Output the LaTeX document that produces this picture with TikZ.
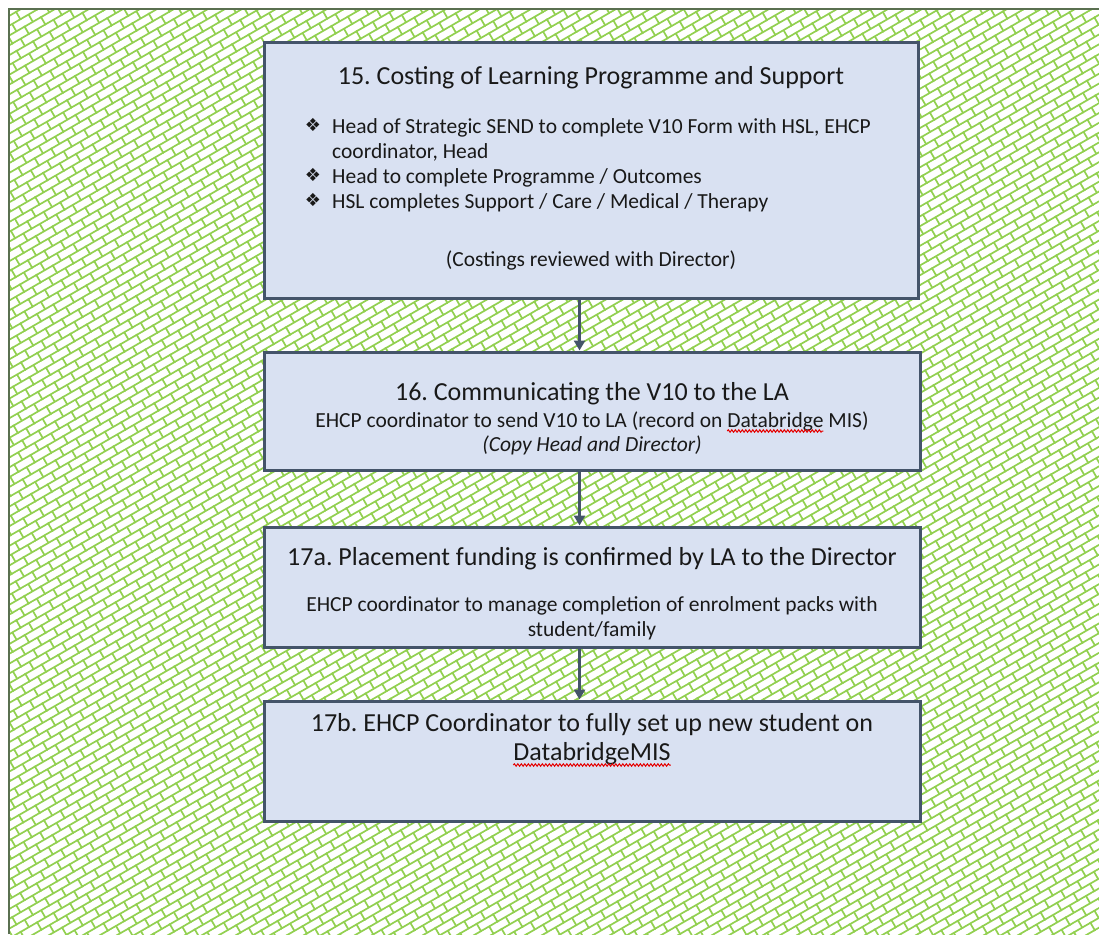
\documentclass[tikz,border=0pt]{standalone}
\usepackage{fontspec}
\setmainfont{Carlito}
\newfontfamily\symfont{DejaVu Sans}
\usetikzlibrary{patterns.meta,arrows.meta,decorations.pathmorphing}

\definecolor{brickgreen}{RGB}{146,208,80}
\definecolor{boxfill}{RGB}{217,225,242}
\definecolor{boxline}{RGB}{68,84,106}
\definecolor{framecol}{RGB}{90,112,80}
\definecolor{txt}{RGB}{25,25,25}

\tikzdeclarepattern{
  name=diagbrick,
  type=uncolored,
  bottom left={(-1pt,-1pt)},
  top right={(20pt,18pt)},
  tile size={(19pt,17pt)},
  tile transformation={rotate=30},
  code={
    \draw[line width=1.7pt] (-1pt,0pt) -- (20pt,0pt);
    \draw[line width=1.7pt] (-1pt,8.5pt) -- (20pt,8.5pt);
    \draw[line width=1.7pt] (0pt,0pt) -- (0pt,8.5pt);
    \draw[line width=1.7pt] (9.5pt,8.5pt) -- (9.5pt,17pt);
  }
}

\frenchspacing
\newcommand{\titlefont}{\fontsize{26}{31}\selectfont}
\newcommand{\bodyfont}{\fontsize{21.5}{26}\selectfont}
\newlength\dbA
\newlength\dbB
\newlength\dbC

\tikzset{
  stepbox/.style={draw=boxline, fill=boxfill, line width=3pt, rectangle, inner sep=0pt},
  ttl/.style={anchor=base, inner sep=0pt, text=txt, font=\titlefont},
  bodytext/.style={anchor=base, inner sep=0pt, text=txt, font=\bodyfont},
  bodyleft/.style={anchor=base west, inner sep=0pt, text=txt, font=\bodyfont},
  bul/.style={anchor=base, inner sep=0pt, text=txt, font=\symfont\fontsize{18}{18}\selectfont},
  arr/.style={draw=boxline, line width=2.5pt, -{Triangle[width=11pt,length=10pt]}},
  spell/.style={draw=red!90!black, line width=1pt, decorate, decoration={snake, amplitude=1.2pt, segment length=3.5pt}},
}

\begin{document}
\settowidth{\dbA}{\bodyfont EHCP coordinator to send V10 to LA (record on }%
\settowidth{\dbB}{\bodyfont Databridge}%
\settowidth{\dbC}{\titlefont DatabridgeMIS}%
\begin{tikzpicture}[x=1pt,y=-1pt]
\useasboundingbox (0,0) rectangle (1099,934);
\fill[white] (0,0) rectangle (1099,934);
\fill[pattern={diagbrick}, pattern color=brickgreen] (9.5,10.5) rectangle (1099,934);
\draw[framecol, line width=2pt] (8.5,934) -- (8.5,9.5) -- (1099,9.5);

% boxes
\node[stepbox, minimum width=654pt, minimum height=255pt] (b15) at (591,170.5) {};
\node[stepbox, minimum width=656pt, minimum height=118pt] (b16) at (592,411) {};
\node[stepbox, minimum width=656pt, minimum height=120pt] (b17a) at (592,587) {};
\node[stepbox, minimum width=656pt, minimum height=120pt] (b17b) at (592,761) {};

% box 15 text
\node[ttl] (t15) at (591,84) {15. Costing of Learning Programme and Support};
\node[bul] (k1) at (313,131) {❖};
\node[bodyleft] (l15a) at (332,133) {Head of Strategic SEND to complete V10 Form with HSL, EHCP};
\node[bodyleft] (l15b) at (332,158) {coordinator, Head};
\node[bul] (k2) at (313,181) {❖};
\node[bodyleft] (l15c) at (332,183) {Head to complete Programme / Outcomes};
\node[bul] (k3) at (313,206) {❖};
\node[bodyleft] (l15d) at (332,208) {HSL completes Support / Care / Medical / Therapy};
\node[bodytext] (l15e) at (591,266) {(Costings reviewed with Director)};

% box 16 text
\node[ttl] (t16) at (592,400) {16. Communicating the V10 to the LA};
\node[bodytext] (l16a) at (592,427) {EHCP coordinator to send V10 to LA (record on Databridge MIS)};
\node[bodytext] (l16b) at (592,451) {\itshape (Copy Head and Director)};

% box 17a text
\node[ttl] (t17a) at (592,565) {17a. Placement funding is confirmed by LA to the Director};
\node[bodytext] (l17a) at (592,611) {EHCP coordinator to manage completion of enrolment packs with};
\node[bodytext] (l17b) at (592,636) {student/family};

% box 17b text
\node[ttl] (t17b) at (592,731) {17b. EHCP Coordinator to fully set up new student on};
\node[ttl] (t17c) at (592,760) {DatabridgeMIS};

% spell-check underlines
\draw[spell] ([xshift=\dbA, yshift=-4pt]l16a.base west) -- ([xshift=\dbA+\dbB, yshift=-4pt]l16a.base west);
\draw[spell] ([yshift=-5pt]t17c.base west) -- ([yshift=-5pt]t17c.base east);

% connectors
\draw[arr] ([xshift=-11.5pt]b15.south) -- ([xshift=-12.5pt]b16.north);
\draw[arr] ([xshift=-12.5pt]b16.south) -- ([xshift=-12.5pt]b17a.north);
\draw[arr] ([xshift=-12.5pt]b17a.south) -- ([xshift=-12.5pt]b17b.north);
\end{tikzpicture}
\end{document}
